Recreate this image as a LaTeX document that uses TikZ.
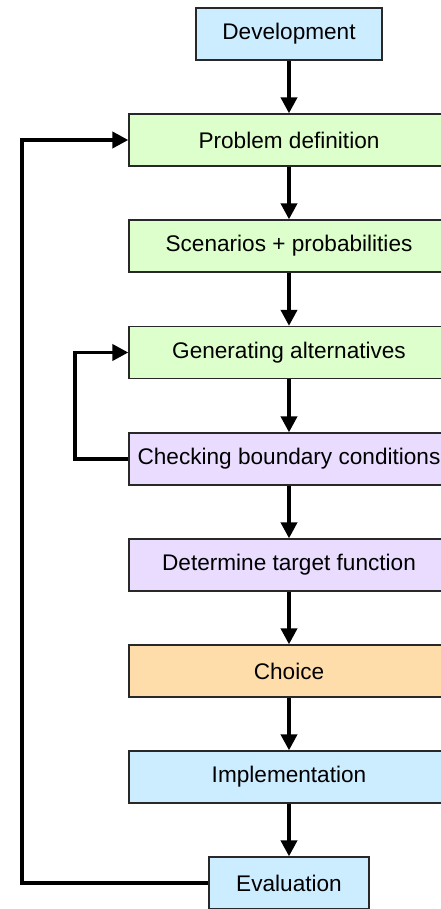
\documentclass[tikz,border=0pt]{standalone}
\usepackage{fontspec}
\setmainfont{Liberation Sans}
\usetikzlibrary{arrows.meta}
\definecolor{boxblue}{RGB}{204,236,255}
\definecolor{boxgreen}{RGB}{221,255,204}
\definecolor{boxviolet}{RGB}{233,220,255}
\definecolor{boxorange}{RGB}{255,221,170}
\definecolor{boxedge}{RGB}{40,40,40}
\tikzset{
  stage/.style={draw=boxedge, line width=1.3pt, minimum height=52pt, inner sep=0pt,
    font=\fontsize{22.6}{26}\selectfont, anchor=center},
  widestage/.style={stage, minimum width=320pt},
  flow/.style={line width=3.8pt, -{Triangle[length=16pt,width=16pt]}},
  loopback/.style={flow, rounded corners=0pt}
}
\begin{document}
\begin{tikzpicture}[x=1pt,y=1pt]
  \useasboundingbox (0,0) rectangle (441,-909);
  \fill[white] (0,0) rectangle (441,-909);

  \node[stage, fill=boxblue, minimum width=186pt] (dev) at (289,-34) {Development};
  \node[widestage, fill=boxgreen] (prob) at (289,-140) {Problem definition};
  \node[widestage, fill=boxgreen] (scen) at (289,-246) {Scenarios + probabilities};
  \node[widestage, fill=boxgreen] (gen) at (289,-352.5) {Generating alternatives};
  \node[widestage, fill=boxviolet] (check) at (289,-459) {Checking boundary conditions};
  \node[widestage, fill=boxviolet] (target) at (289,-565) {Determine target function};
  \node[widestage, fill=boxorange] (choice) at (289,-671) {Choice};
  \node[widestage, fill=boxblue] (impl) at (289,-777) {Implementation};
  \node[stage, fill=boxblue, minimum width=160pt] (eval) at (289,-883) {Evaluation};

  \coordinate (bigx) at (22,0);
  \coordinate (smallx) at (75,0);

  \draw[flow] (dev) -- (prob);
  \draw[flow] (prob) -- (scen);
  \draw[flow] (scen) -- (gen);
  \draw[flow] (gen) -- (check);
  \draw[flow] (check) -- (target);
  \draw[flow] (target) -- (choice);
  \draw[flow] (choice) -- (impl);
  \draw[flow] (impl) -- (eval);

  \draw[loopback] (eval.west) -- (eval.west -| bigx) -- (prob.west -| bigx) -- (prob.west);
  \draw[loopback] (check.west) -- (check.west -| smallx) -- (gen.west -| smallx) -- (gen.west);
\end{tikzpicture}
\end{document}
